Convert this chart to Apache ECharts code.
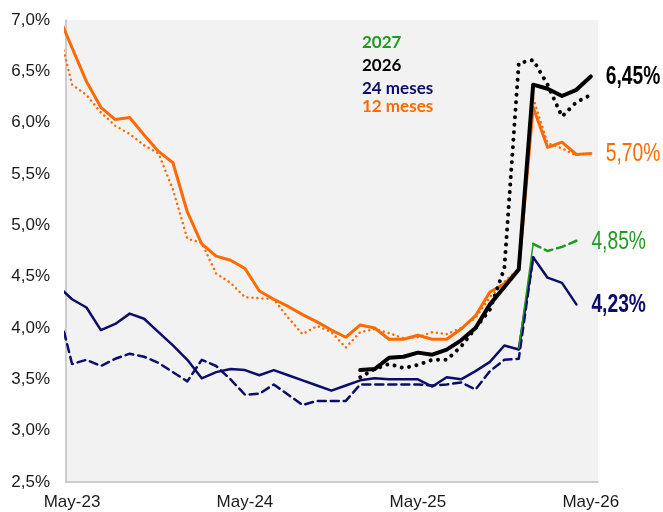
<!DOCTYPE html>
<html>
<head>
<meta charset="utf-8">
<script src="https://cdn.jsdelivr.net/npm/echarts@6/dist/echarts.min.js"></script>
<style>
  html, body { margin: 0; padding: 0; background: #fff; }
  #chart { width: 663px; height: 512px; }
</style>
</head>
<body>
<div id="chart"></div>
<script>
// meses desde May-23 (-1 = Abr-23, queda recortado por el eje)
var months = [-1, 0, 1, 2, 3, 4, 5, 6, 7, 8, 9, 10, 11, 12, 13, 14, 15, 16, 17, 18,
  19, 20, 21, 22, 23, 24, 25, 26, 27, 28, 29, 30, 31, 32, 33, 34, 35, 36];
var xTicks = [0, 12, 24, 36];
var xTickLabels = ['May-23', 'May-24', 'May-25', 'May-26'];

var meses12 = [7.06, 6.73, 6.40, 6.15, 6.03, 6.05, 5.88, 5.72, 5.61, 5.13, 4.82, 4.70, 4.66, 4.58, 4.36, 4.28,
  4.21, 4.13, 4.06, 3.98, 3.91, 4.03, 4.00, 3.89, 3.89, 3.93, 3.89, 3.89, 3.99, 4.12, 4.35, 4.43,
  4.57, 6.15, 5.76, 5.81, 5.69, 5.70];
var meses12Prev = [6.94, 6.37, 6.27, 6.10, 5.97, 5.89, 5.78, 5.70, 5.35, 4.87, 4.83, 4.53, 4.44, 4.30, 4.29, 4.28,
  4.10, 3.94, 4.02, 3.96, 3.81, 3.96, 3.99, 3.95, 3.90, 3.91, 3.96, 3.94, 4.00, 4.10, 4.30, 4.45,
  4.58, 6.24, 5.80, 5.75, 5.68, null];
var meses24 = [4.41, 4.28, 4.20, 3.98, 4.04, 4.14, 4.09, 3.96, 3.83, 3.69, 3.51, 3.57, 3.60, 3.59, 3.54, 3.59,
  3.54, 3.49, 3.44, 3.39, 3.44, 3.49, 3.51, 3.50, 3.50, 3.50, 3.43, 3.52, 3.50, 3.58, 3.67, 3.83,
  3.79, 4.69, 4.49, 4.44, 4.23, null];
var meses24Prev = [4.21, 3.65, 3.69, 3.63, 3.70, 3.75, 3.72, 3.66, 3.57, 3.48, 3.69, 3.63, 3.50, 3.35, 3.36, 3.45,
  3.35, 3.25, 3.29, 3.29, 3.29, 3.45, 3.45, 3.45, 3.45, 3.45, 3.44, 3.45, 3.47, 3.40, 3.58, 3.69,
  3.70, 4.69, null, null, null, null];
var y2026 = [null, null, null, null, null, null, null, null, null, null, null, null, null, null, null, null,
  null, null, null, null, null, 3.59, 3.60, 3.71, 3.72, 3.76, 3.74, 3.79, 3.88, 4.00, 4.23, 4.40,
  4.57, 6.37, 6.33, 6.26, 6.32, 6.45];
var y2026Prev = [null, null, null, null, null, null, null, null, null, null, null, null, null, null, null, null,
  null, null, null, null, null, 3.52, 3.60, 3.65, 3.61, 3.64, 3.69, 3.69, 3.82, 4.00, 4.18, 4.58,
  6.58, 6.61, 6.37, 6.06, 6.20, 6.27];
var y2027 = [null, null, null, null, null, null, null, null, null, null, null, null, null, null, null, null,
  null, null, null, null, null, null, null, null, null, null, null, null, null, null, null, null,
  3.80, 4.82, null, null, null, null];
var y2027Prev = [null, null, null, null, null, null, null, null, null, null, null, null, null, null, null, null,
  null, null, null, null, null, null, null, null, null, null, null, null, null, null, null, null,
  null, 4.82, 4.75, 4.79, 4.85, null];

var GREEN = '#1f9a1f', BLACK = '#000000', NAVY = '#0c0c6a', ORANGE = '#ff6a00';

function pairs(arr) {
  var out = [];
  for (var i = 0; i < months.length; i++) {
    if (arr[i] != null) out.push([months[i], arr[i]]);
  }
  return out;
}

function lastPoint(arr) {
  var p = pairs(arr);
  return p[p.length - 1];
}

function fmtPct(v) {
  return v.toFixed(2).replace('.', ',') + '%';
}

function line(name, arr, color, width, dash) {
  return {
    name: name,
    type: 'line',
    data: pairs(arr),
    showSymbol: false,
    symbol: 'none',
    silent: true,
    lineStyle: { color: color, width: width, type: dash || 'solid', cap: 'round', join: 'round' }
  };
}

var legendFont = 'bold 17px Lato, "Open Sans", sans-serif';

var chart = echarts.init(document.getElementById('chart'));
chart.setOption({
  animation: false,
  backgroundColor: '#ffffff',
  grid: {
    left: 66, right: 65, top: 20, bottom: 30,
    show: true, backgroundColor: '#f2f2f2', borderWidth: 0
  },
  xAxis: {
    type: 'value',
    min: -0.42,
    max: 36.5,
    axisLine: { show: true, onZero: false, lineStyle: { color: '#bfbfbf', width: 1.5 } },
    axisTick: { show: false },
    splitLine: { show: false },
    axisLabel: {
      customValues: xTicks,
      margin: 12,
      color: '#1a1a1a',
      fontFamily: '"Liberation Sans", Arial',
      fontSize: 17,
      formatter: function (v) {
        var i = xTicks.indexOf(Math.round(v));
        return i >= 0 ? xTickLabels[i] : '';
      }
    }
  },
  yAxis: {
    type: 'value',
    min: 2.5,
    max: 7.0,
    interval: 0.5,
    axisLine: { show: true, onZero: false, lineStyle: { color: '#bfbfbf', width: 1.5 } },
    axisTick: { show: false },
    splitLine: { show: false },
    axisLabel: {
      margin: 16,
      color: '#1a1a1a',
      fontFamily: '"Liberation Sans", Arial',
      fontSize: 17,
      formatter: function (v) { return v.toFixed(1).replace('.', ',') + '%'; }
    }
  },
  graphic: [
    { type: 'text', left: 362, top: 34, style: { text: '2027', fill: GREEN, font: legendFont } },
    { type: 'text', left: 362, top: 57, style: { text: '2026', fill: BLACK, font: legendFont } },
    { type: 'text', left: 362, top: 80, style: { text: '24 meses', fill: NAVY, font: legendFont } },
    { type: 'text', left: 362, top: 98, style: { text: '12 meses', fill: ORANGE, font: legendFont } }
  ],
  series: [
    line('24 meses ant.', meses24Prev, NAVY, 2.5, [8, 5]),
    line('24 meses', meses24, NAVY, 2.5, 'solid'),
    line('2027', y2027, GREEN, 1.5, 'solid'),
    line('2027 ant.', y2027Prev, GREEN, 2.5, [8, 5]),
    line('12 meses ant.', meses12Prev, ORANGE, 2.5, [0.01, 5]),
    line('12 meses', meses12, ORANGE, 3, 'solid'),
    line('2026 ant.', y2026Prev, BLACK, 4, [0.01, 7.5]),
    line('2026', y2026, BLACK, 4, 'solid')
  ]
});

// etiquetas finales, en letra estrecha (escala horizontal)
var ends = [
  { arr: y2026, color: BLACK, bold: true },
  { arr: meses12, color: ORANGE, bold: false },
  { arr: y2027Prev, color: GREEN, bold: false },
  { arr: meses24, color: NAVY, bold: true }
];
var endGraphics = ends.map(function (e, i) {
  var p = lastPoint(e.arr);
  var px = chart.convertToPixel({ gridIndex: 0 }, p);
  return {
    type: 'text',
    id: 'end' + i,
    x: px[0] + 15,
    y: px[1] + 1,
    scaleX: 0.77,
    style: {
      text: fmtPct(p[1]),
      fill: e.color,
      font: (e.bold ? 'bold ' : '') + '25px "Liberation Sans", Arial',
      verticalAlign: 'middle',
      align: 'left'
    }
  };
});
chart.setOption({ graphic: endGraphics });
</script>
</body>
</html>
